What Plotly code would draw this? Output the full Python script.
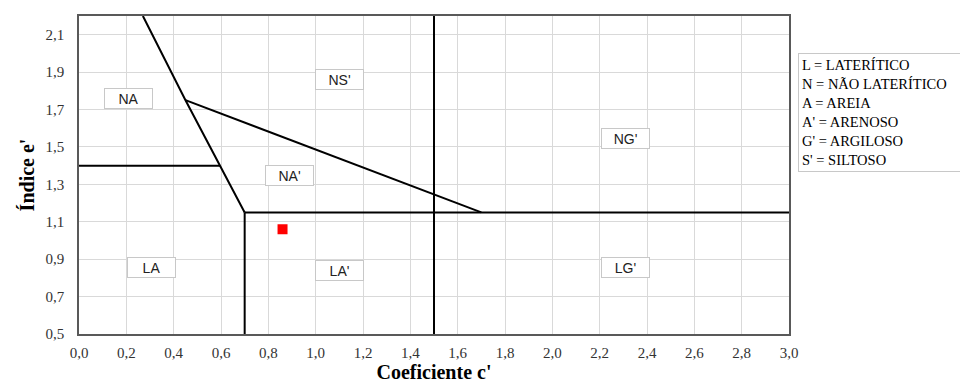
import plotly.graph_objects as go

# Boundary lines of the MCT classification chart
boundary_lines = {
    "diag_left": ([0.27, 0.45, 0.7], [2.2, 1.75, 1.15]),
    "h_14": ([0.0, 0.596], [1.4, 1.4]),
    "diag_mid": ([0.45, 1.7], [1.75, 1.15]),
    "h_115": ([0.7, 3.0], [1.15, 1.15]),
    "v_07": ([0.7, 0.7], [0.5, 1.15]),
    "v_15": ([1.5, 1.5], [0.5, 2.2]),
}

# Region labels
region_names = ["NA", "NS'", "NG'", "NA'", "LA", "LA'", "LG'"]
region_x = [0.21, 1.10, 2.31, 0.89, 0.305, 1.10, 2.31]
region_y = [1.76, 1.86, 1.545, 1.345, 0.855, 0.84, 0.855]

# Sample point
sample_x = [0.86]
sample_y = [1.06]

# Ticks
x_ticks = [round(i * 0.2, 1) for i in range(16)]
x_ticktext = [f"{v:.1f}".replace(".", ",") for v in x_ticks]
y_ticks = [0.5, 0.7, 0.9, 1.1, 1.3, 1.5, 1.7, 1.9, 2.1]
y_ticktext = [f"{v:.1f}".replace(".", ",") for v in y_ticks]

legend_lines = ["L = LATERÍTICO", "N = NÃO LATERÍTICO", "A = AREIA",
                "A' = ARENOSO", "G' = ARGILOSO", "S' = SILTOSO"]

serif = "Liberation Serif"

fig = go.Figure()
for name, (xs, ys) in boundary_lines.items():
    fig.add_trace(go.Scatter(x=xs, y=ys, mode="lines",
                             line=dict(color="black", width=2),
                             showlegend=False, hoverinfo="skip"))

fig.add_trace(go.Scatter(x=sample_x, y=sample_y, mode="markers",
                         marker=dict(symbol="square", size=10, color="#ff0000"),
                         showlegend=False))

for n, xv, yv in zip(region_names, region_x, region_y):
    fig.add_annotation(x=xv, y=yv, text=n, showarrow=False,
                       font=dict(family="Liberation Sans", size=14, color="#222"),
                       bgcolor="white", bordercolor="#c8c8c8", borderwidth=1,
                       borderpad=0, width=47, height=19)

fig.add_annotation(xref="paper", yref="paper", x=1.0127, y=0.885,
                   xanchor="left", yanchor="top", align="left",
                   text="<br>".join(legend_lines), showarrow=False,
                   font=dict(family=serif, size=14.5, color="black"),
                   bgcolor="white", bordercolor="#c8c8c8", borderwidth=1,
                   borderpad=3, width=161, height=111)

fig.update_layout(
    width=960, height=384,
    margin=dict(l=71, r=179, t=6, b=58),
    plot_bgcolor="white", paper_bgcolor="white",
    xaxis=dict(range=[0, 3.0], tickvals=x_ticks, ticktext=x_ticktext,
               showgrid=True, gridcolor="#d9d9d9", gridwidth=1,
               showline=True, linecolor="#595959", linewidth=1.5, mirror=True,
               zeroline=False, ticks="outside", ticklen=4, tickcolor="rgba(0,0,0,0)",
               tickfont=dict(family=serif, size=15, color="#333"),
               title=dict(text="<b>Coeficiente c'</b>", standoff=4,
                          font=dict(family=serif, size=20, color="black"))),
    yaxis=dict(range=[0.5, 2.2], tickvals=y_ticks, ticktext=y_ticktext,
               showgrid=True, gridcolor="#d9d9d9", gridwidth=1,
               showline=True, linecolor="#595959", linewidth=1.5, mirror=True,
               zeroline=False, ticks="outside", ticklen=10, tickcolor="rgba(0,0,0,0)",
               tickfont=dict(family=serif, size=15, color="#333"),
               title=dict(text="<b>Índice e'</b>", standoff=6,
                          font=dict(family=serif, size=20, color="black"))),
)

fig.write_html("out.html")
